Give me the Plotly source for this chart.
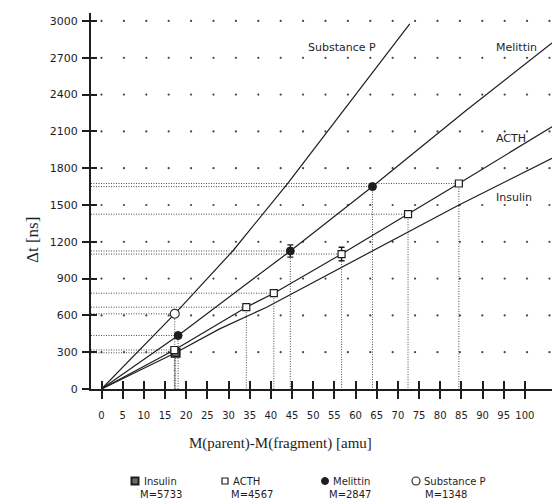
import plotly.graph_objects as go

W, H = 552, 504

# ---- axis ticks -------------------------------------------------------------
x_ticks = list(range(0, 101, 5))
y_ticks = list(range(0, 3001, 300))

# ---- measured points (mass loss [amu], flight-time difference [ns]) --------
subp_x = [17.3]
subp_y = [613]

mel_x = [18.1, 44.6, 64.0]
mel_y = [436, 1125, 1650]
mel_err = [0, 50, 0]

acth_x = [17.2, 34.2, 40.7, 56.7, 72.4, 84.4]
acth_y = [318, 667, 781, 1100, 1425, 1675]
acth_err = [0, 0, 0, 55, 0, 0]

ins_x = [17.5]
ins_y = [295]

# ---- calibration curves ------------------------------------------------------
subp_curve_x = [0, 17.3, 31.1, 43.9, 72.8]
subp_curve_y = [0, 613, 1129, 1673, 2977]

mel_curve_x = [0, 18.1, 44.6, 64.0, 86.1, 106.4]
mel_curve_y = [0, 436, 1125, 1650, 2270, 2820]

acth_curve_x = [0, 17.2, 34.2, 40.7, 56.7, 72.4, 84.4, 106.4]
acth_curve_y = [0, 318, 667, 781, 1100, 1425, 1675, 2138]

ins_curve_x = [0, 17.5, 27.9, 39.0, 84.2, 106.4]
ins_curve_y = [0, 295, 490, 667, 1496, 1880]

# legend entries: name, molecular mass
legend_names = ["Insulin", "ACTH", "Melittin", "Substance P"]
legend_masses = ["M=5733", "M=4567", "M=2847", "M=1348"]

# ---- layout geometry ---------------------------------------------------------
X_RANGE = [-2.48, 106.4]
Y_RANGE = [0, 3065]
X_DOMAIN = [91 / W, 1.0]
Y_DOMAIN = [(H - 389) / H, (H - 13) / H]

INK = "#1e1e1e"
SANS = "DejaVu Sans"
SERIF = "Liberation Serif"

fig = go.Figure()

# dotted background grid
grid_x = [round(i * 5.29, 2) for i in range(21)]
gx, gy = [], []
for yv in y_ticks[1:]:
    for xv in grid_x:
        gx.append(xv)
        gy.append(yv)
fig.add_trace(go.Scatter(x=gx, y=gy, mode="markers",
                         marker=dict(size=2.2, color="#444"),
                         hoverinfo="skip"))

# dotted guide lines from each point to both axes
hx, hy = [], []
for xs, ys in [(subp_x, subp_y), (mel_x, mel_y), (acth_x, acth_y), (ins_x, ins_y)]:
    for xv, yv in zip(xs, ys):
        hx += [X_RANGE[0], xv, None, xv, xv, None]
        hy += [yv, yv, None, yv, 0, None]
fig.add_trace(go.Scatter(x=hx, y=hy, mode="lines",
                         line=dict(color="#4a4a4a", width=1, dash="1px,1.5px"),
                         hoverinfo="skip"))

# calibration curves
for cx, cy in [(subp_curve_x, subp_curve_y), (mel_curve_x, mel_curve_y),
               (acth_curve_x, acth_curve_y), (ins_curve_x, ins_curve_y)]:
    fig.add_trace(go.Scatter(x=cx, y=cy, mode="lines",
                             line=dict(color=INK, width=1.2), hoverinfo="skip"))

# markers
ins_marker = dict(symbol="square", size=8, color="#6a6a6a", line=dict(color=INK, width=2))
acth_marker = dict(symbol="square", size=7, color="white", line=dict(color=INK, width=1.2))
mel_marker = dict(symbol="circle", size=8, color=INK, line=dict(color=INK, width=1))
subp_marker = dict(symbol="circle", size=9, color="white", line=dict(color=INK, width=1.1))

err_style = dict(type="data", visible=True, color=INK, thickness=1.4, width=3)

fig.add_trace(go.Scatter(x=ins_x, y=ins_y, mode="markers", marker=ins_marker, name="Insulin"))
fig.add_trace(go.Scatter(x=acth_x, y=acth_y, mode="markers", marker=acth_marker, name="ACTH",
                         error_y=dict(array=acth_err, **err_style)))
fig.add_trace(go.Scatter(x=mel_x, y=mel_y, mode="markers", marker=mel_marker, name="Melittin",
                         error_y=dict(array=mel_err, **err_style)))
fig.add_trace(go.Scatter(x=subp_x, y=subp_y, mode="markers", marker=subp_marker, name="Substance P"))

# curve labels
curve_labels = [("Substance P", 48.4, 2786), ("Melittin", 92.6, 2781),
                ("ACTH", 92.6, 2040), ("Insulin", 92.6, 1564)]
for txt, lx, ly in curve_labels:
    fig.add_annotation(x=lx, y=ly, xref="x", yref="y", text=txt, showarrow=False,
                       xanchor="left", yanchor="middle",
                       font=dict(family=SANS, size=11, color=INK))

# empty trace so the overlay tick axes are drawn
fig.add_trace(go.Scatter(x=[None], y=[None], xaxis="x2", yaxis="y2", showlegend=False))

# legend block below the chart (pixel coordinates on a hidden axis pair)
LEG_ROW1, LEG_ROW2 = 481, 494
legend_marker_x = [135, 225, 325, 416]
legend_markers = [ins_marker, acth_marker, mel_marker, subp_marker]
for mx, mk in zip(legend_marker_x, legend_markers):
    m = dict(mk)
    m["size"] = max(m["size"] - 1, 6)
    fig.add_trace(go.Scatter(x=[mx], y=[LEG_ROW1], mode="markers", marker=m,
                             xaxis="x3", yaxis="y3", hoverinfo="skip"))
name_x = [142, 231, 331, 422]
mass_x = [138, 229, 327, 423]
for nm, ms, nx, mx in zip(legend_names, legend_masses, name_x, mass_x):
    fig.add_annotation(x=nx / W, y=1 - LEG_ROW1 / H, xref="paper", yref="paper", text=nm,
                       showarrow=False, xanchor="left", yanchor="middle",
                       font=dict(family=SANS, size=10, color=INK))
    fig.add_annotation(x=mx / W, y=1 - LEG_ROW2 / H, xref="paper", yref="paper", text=ms,
                       showarrow=False, xanchor="left", yanchor="middle",
                       font=dict(family=SANS, size=10, color=INK))

# axis titles
fig.add_annotation(x=280 / W, y=1 - 443 / H, xref="paper", yref="paper",
                   text="M(parent)-M(fragment) [amu]", showarrow=False,
                   xanchor="center", yanchor="middle",
                   font=dict(family=SERIF, size=15, color=INK))
fig.add_annotation(x=32 / W, y=1 - 240 / H, xref="paper", yref="paper",
                   text="Δt [ns]", showarrow=False, textangle=-90,
                   xanchor="center", yanchor="middle",
                   font=dict(family=SERIF, size=17, color=INK))

common_x = dict(range=X_RANGE, domain=X_DOMAIN, tickvals=x_ticks,
                showgrid=False, zeroline=False, fixedrange=True)
common_y = dict(range=Y_RANGE, domain=Y_DOMAIN, tickvals=y_ticks,
                showgrid=False, zeroline=False, fixedrange=True)

fig.update_layout(
    width=W, height=H,
    margin=dict(l=0, r=0, t=0, b=0),
    paper_bgcolor="white", plot_bgcolor="rgba(0,0,0,0)",
    showlegend=False,
    xaxis=dict(**common_x, anchor="y", ticktext=[str(v) for v in x_ticks],
               ticks="outside", ticklen=8, tickwidth=1.5, tickcolor=INK,
               showline=True, linecolor=INK, linewidth=1.6,
               tickfont=dict(family=SANS, size=10, color=INK),
               ticklabelstandoff=8, automargin=False),
    yaxis=dict(**common_y, anchor="x", ticktext=[str(v) for v in y_ticks],
               ticks="outside", ticklen=7, tickwidth=1.5, tickcolor=INK,
               showline=True, linecolor=INK, linewidth=2,
               tickfont=dict(family=SANS, size=11, color=INK),
               ticklabelstandoff=2, automargin=False),
    xaxis2=dict(**common_x, overlaying="x", anchor="y2", side="bottom",
                ticks="inside", ticklen=8, tickwidth=1.5, tickcolor=INK,
                showticklabels=False, showline=False),
    yaxis2=dict(**common_y, overlaying="y", anchor="x2", side="left",
                ticks="inside", ticklen=6, tickwidth=1.5, tickcolor=INK,
                showticklabels=False, showline=False),
    xaxis3=dict(range=[0, W], domain=[0, 1], visible=False, fixedrange=True, anchor="y3"),
    yaxis3=dict(range=[H, 0], domain=[0, 1], visible=False, fixedrange=True, anchor="x3"),
)

fig.write_html("out.html")
